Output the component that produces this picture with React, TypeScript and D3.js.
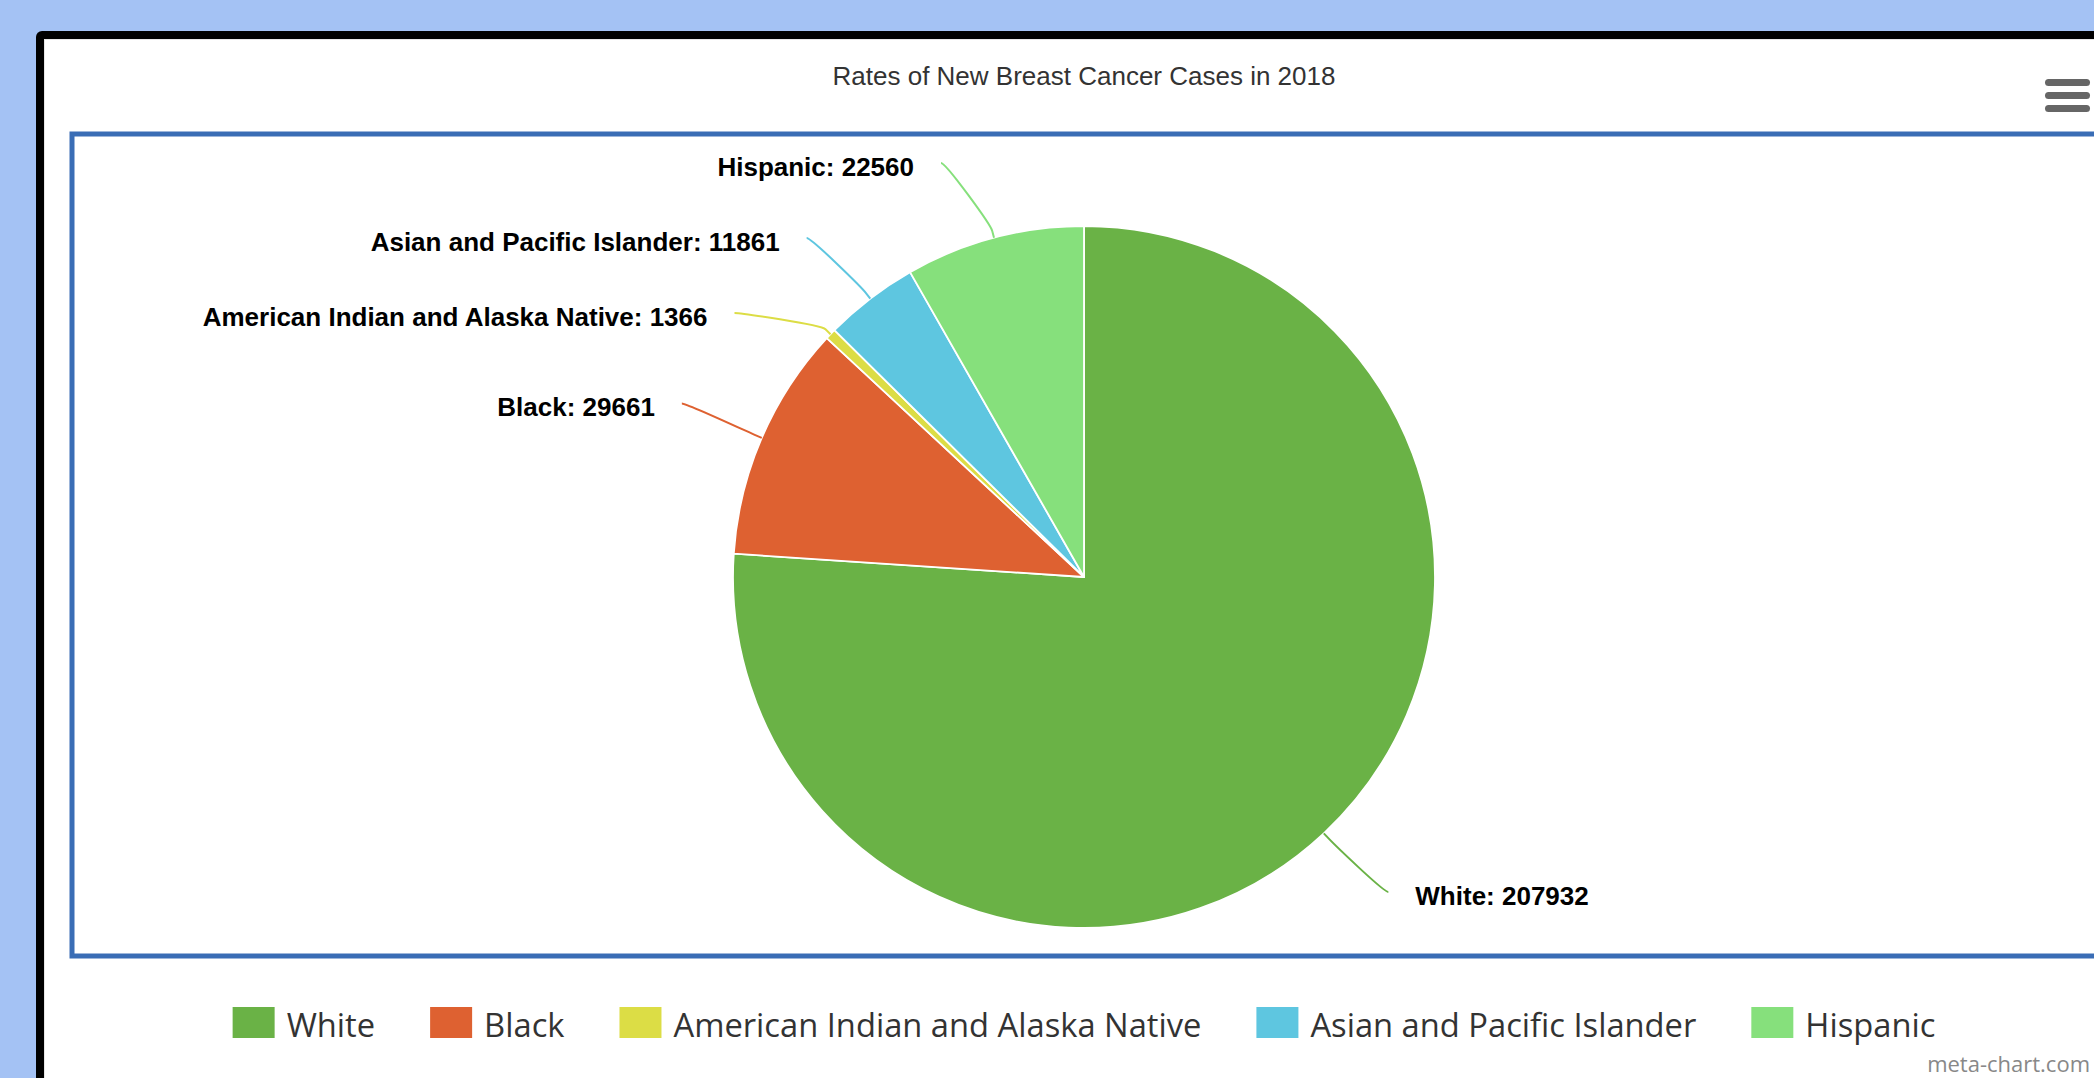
import React from "react";
import * as d3 from "d3";

const categories = [
  "White",
  "Black",
  "American Indian and Alaska Native",
  "Asian and Pacific Islander",
  "Hispanic",
];
const caseCounts = [207932, 29661, 1366, 11861, 22560];
const sliceColors = ["#6ab246", "#de6131", "#dcdd45", "#5ec6e0", "#86e07c"];
const chartTitle = "Rates of New Breast Cancer Cases in 2018";
const creditText = "meta-chart.com";

const W = 2094;
const H = 1078;
const PLOT = { x0: 72, y0: 134, x1: 2100, y1: 956 };
const CX = 1084;
const CY = 577;
const R = 351;
const LABEL_RADIUS = R + 87;
const LABEL_GAP = 75;
const LABEL_TOP = PLOT.y0 + 29;
const LABEL_BOTTOM = PLOT.y1 - 64;
const TEXT_PAD = 27;
const CONNECTOR_OFFSET = 7;
const LEGEND_FONT_SIZE = 32.7;
const LEGEND_FONT_FAMILY = "'Open Sans', 'Noto Sans', sans-serif";
const LEGEND_SWATCH_W = 42;
const LEGEND_SWATCH_H = 31;
const LEGEND_TEXT_OFFSET = 54;
const LEGEND_ITEM_DIST = 55;
const LEGEND_Y = 1007;

function measureText(text: string, font: string): number {
  const c = document.createElement("canvas");
  const ctx = c.getContext("2d");
  if (!ctx) return text.length * 15;
  ctx.font = font;
  return ctx.measureText(text).width;
}

type LabelInfo = {
  i: number;
  mid: number;
  left: boolean;
  natY: number;
  y: number;
};

export default function App() {
  const arcs = d3
    .pie<number>()
    .sort(null)
    .value((d) => d)
    .startAngle(0)
    .endAngle(2 * Math.PI)(caseCounts);
  const arcGen = d3
    .arc<d3.PieArcDatum<number>>()
    .innerRadius(0)
    .outerRadius(R);

  // label layout: natural position on an outer circle, then spread apart per side
  const labels: LabelInfo[] = arcs.map((a, i) => {
    const mid = (a.startAngle + a.endAngle) / 2;
    const natY = CY - LABEL_RADIUS * Math.cos(mid);
    return { i, mid, left: Math.sin(mid) < 0, natY, y: natY };
  });
  [true, false].forEach((side) => {
    const group = labels
      .filter((l) => l.left === side)
      .sort((a, b) => a.natY - b.natY);
    let prev = -Infinity;
    group.forEach((l) => {
      l.y = Math.max(l.natY, LABEL_TOP, prev + LABEL_GAP);
      prev = l.y;
    });
    let next = Infinity;
    for (let k = group.length - 1; k >= 0; k--) {
      const l = group[k];
      l.y = Math.min(l.y, LABEL_BOTTOM, next - LABEL_GAP);
      next = l.y;
    }
  });

  const legendFont = `${LEGEND_FONT_SIZE}px ${LEGEND_FONT_FAMILY}`;
  const legendWidths = categories.map((c) => measureText(c, legendFont));
  const itemWidths = legendWidths.map((w) => LEGEND_TEXT_OFFSET + w);
  const legendTotal =
    d3.sum(itemWidths) + LEGEND_ITEM_DIST * (categories.length - 1);
  let lx = CX - legendTotal / 2;
  const legendX = itemWidths.map((w) => {
    const x = lx;
    lx += w + LEGEND_ITEM_DIST;
    return x;
  });

  return (
    <div style={{ position: "fixed", left: 0, top: 0, width: W, height: H }}>
      <svg width={W} height={H} style={{ display: "block" }}>
        <rect x={0} y={0} width={W} height={H} fill="#a4c2f4" />
        <rect x={36} y={31} width={W + 100} height={H + 100} rx={6} fill="#000" />
        <rect x={44} y={39} width={W + 100} height={H + 100} fill="#ffffff" />
        <line x1={44.5} y1={39} x2={44.5} y2={H} stroke="#e6e6e6" strokeWidth={1} />
        <line x1={44} y1={39.5} x2={W} y2={39.5} stroke="#e6e6e6" strokeWidth={1} />

        <text
          x={CX}
          y={85}
          textAnchor="middle"
          fontFamily="'Liberation Sans', Arial, sans-serif"
          fontSize={26}
          fill="#333333"
        >
          {chartTitle}
        </text>

        {/* export menu */}
        {[0, 1, 2].map((k) => (
          <rect
            key={k}
            x={2045}
            y={79 + k * 13}
            width={45}
            height={7}
            rx={3.5}
            fill="#666666"
          />
        ))}

        <rect
          x={PLOT.x0}
          y={PLOT.y0}
          width={PLOT.x1 - PLOT.x0}
          height={PLOT.y1 - PLOT.y0}
          fill="none"
          stroke="#3a6db5"
          strokeWidth={5}
        />

        <g transform={`translate(${CX},${CY})`}>
          {arcs.map((a, i) => (
            <path
              key={i}
              d={arcGen(a) || ""}
              fill={sliceColors[i]}
              stroke="#ffffff"
              strokeWidth={1.8}
              strokeLinejoin="round"
            />
          ))}
        </g>

        {labels.map((l) => {
          const dy = l.y - CY;
          const dx = Math.sqrt(Math.max(0, LABEL_RADIUS * LABEL_RADIUS - dy * dy));
          const px = l.left ? CX - dx : CX + dx;
          const s = Math.sin(l.mid);
          const c = Math.cos(l.mid);
          const tx = CX + R * s;
          const ty = CY - R * c;
          const bx = CX + (R + CONNECTOR_OFFSET) * s;
          const by = CY - (R + CONNECTOR_OFFSET) * c;
          const c1x = px + (l.left ? 5 : -5);
          const c2x = 2 * bx - tx;
          const c2y = 2 * by - ty;
          const d = `M${px},${l.y} C${c1x},${l.y} ${c2x},${c2y} ${bx},${by} L${tx},${ty}`;
          const textX = l.left ? px - TEXT_PAD : px + TEXT_PAD;
          return (
            <g key={l.i}>
              <path d={d} fill="none" stroke={sliceColors[l.i]} strokeWidth={2} />
              <text
                x={textX}
                y={l.y + 13}
                textAnchor={l.left ? "end" : "start"}
                fontFamily="'Liberation Sans', Arial, sans-serif"
                fontWeight="bold"
                fontSize={26}
                fill="#000000"
              >
                {`${categories[l.i]}: ${caseCounts[l.i]}`}
              </text>
            </g>
          );
        })}

        {categories.map((cat, i) => (
          <g key={cat}>
            <rect
              x={legendX[i]}
              y={LEGEND_Y}
              width={LEGEND_SWATCH_W}
              height={LEGEND_SWATCH_H}
              fill={sliceColors[i]}
            />
            <text
              x={legendX[i] + LEGEND_TEXT_OFFSET}
              y={LEGEND_Y + 30}
              fontFamily={LEGEND_FONT_FAMILY}
              fontSize={LEGEND_FONT_SIZE}
              fill="#333333"
            >
              {cat}
            </text>
          </g>
        ))}

        <text
          x={2090}
          y={1072}
          textAnchor="end"
          fontFamily={LEGEND_FONT_FAMILY}
          fontSize={22}
          fill="#888888"
        >
          {creditText}
        </text>
      </svg>
    </div>
  );
}
